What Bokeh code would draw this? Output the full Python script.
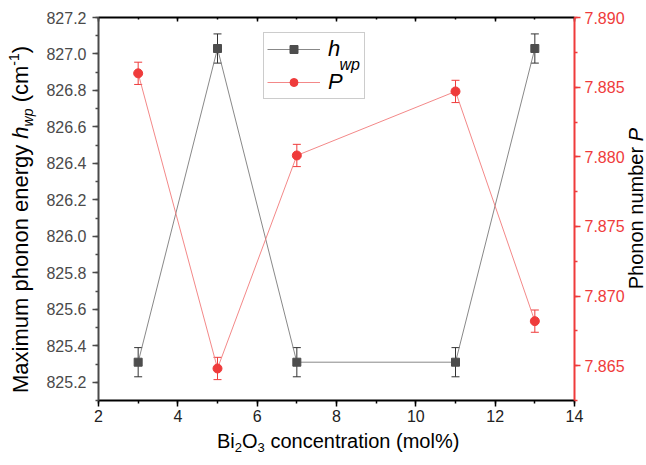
from bokeh.plotting import figure
from bokeh.layouts import row, column
from bokeh.models import (Range1d, LinearAxis, SingleIntervalTicker, NumeralTickFormatter,
                          ColumnDataSource, Whisker, TeeHead, Label, Legend, LegendItem,
                          CustomJSTickFormatter, Div)
from bokeh.embed import file_html
from bokeh.resources import INLINE

# ---------------- data ----------------
conc = [3, 5, 7, 11, 13]                       # Bi2O3 concentration (mol%)
hwp = [825.31, 827.03, 825.31, 825.31, 827.03]  # maximum phonon energy (cm-1)
hwp_err = [0.08, 0.08, 0.08, 0.08, 0.08]
phonon_P = [7.8860, 7.8648, 7.8801, 7.8847, 7.8682]  # phonon number P
P_err = [0.0008, 0.0008, 0.0008, 0.0008, 0.0008]

x_lim = (2, 14)
y_lim = (825.1, 827.2)
p_lim = (7.8625, 7.89001)   # tiny pad so the 7.890 end tick is kept

# ---------------- layout constants (window pixels) ----------------
LEFT_DIV = 40
FL, FT, FW, FH = 98, 17, 476, 383
RB, BB = 50, 30
FIG_H = FT + FH + BB
RIGHT_DIV = 646 - LEFT_DIV - (FL - LEFT_DIV) - FW - RB
FONT = "Liberation Sans"
GRAY = "#4a4a4a"
RED = "#ef3b3b"


def dx(px):
    return x_lim[0] + (px - FL) * (x_lim[1] - x_lim[0]) / FW


def dy(py):
    return y_lim[1] - (py - FT) * (y_lim[1] - y_lim[0]) / FH


p = figure(frame_width=FW, frame_height=FH, output_backend="svg", toolbar_location=None,
           x_range=Range1d(*x_lim), y_range=Range1d(*y_lim),
           min_border_left=FL - LEFT_DIV, min_border_top=FT, min_border_right=RB,
           min_border_bottom=BB, margin=0)
p.outline_line_color = None
p.xgrid.visible = False
p.ygrid.visible = False
p.background_fill_color = "white"
p.border_fill_color = "white"

p.extra_y_ranges = {"P": Range1d(*p_lim)}


def style_axis(ax, color, tin, tout, mtin, mtout, label_color, standoff):
    ax.axis_line_width = 2
    ax.axis_line_color = color
    ax.major_tick_line_color = color
    ax.minor_tick_line_color = color
    ax.major_tick_line_width = 1.5
    ax.minor_tick_line_width = 1.5
    ax.major_tick_in = tin
    ax.major_tick_out = tout
    ax.minor_tick_in = mtin
    ax.minor_tick_out = mtout
    ax.major_label_text_font = FONT
    ax.major_label_text_font_size = "16px"
    ax.major_label_text_color = label_color
    ax.major_label_standoff = standoff


# bottom axis
xa = p.xaxis[0]
xa.ticker = SingleIntervalTicker(interval=2, num_minor_ticks=2)
style_axis(xa, "black", 0, 6, 0, 3, "#222222", 3)

# left axis
ya = p.yaxis[0]
ya.ticker = SingleIntervalTicker(interval=0.2, num_minor_ticks=2)
ya.formatter = NumeralTickFormatter(format="0.0")
style_axis(ya, GRAY, 0, 6, 0, 3, GRAY, 6)

# right axis
ra = LinearAxis(y_range_name="P")
ra.ticker = SingleIntervalTicker(interval=0.005, num_minor_ticks=2)
ra.formatter = NumeralTickFormatter(format="0.000")
style_axis(ra, RED, 0, 6, 0, 3, RED, 4)
p.add_layout(ra, "right")

# top axis (ticks only)
ta = LinearAxis()
ta.ticker = SingleIntervalTicker(interval=2, num_minor_ticks=2)
ta.formatter = CustomJSTickFormatter(code="return ''")
style_axis(ta, "black", 4, 0, 2, 0, "black", 0)
ta.major_label_text_font_size = "0px"
p.add_layout(ta, "above")

# ---------------- data glyphs ----------------
src_h = ColumnDataSource(dict(x=conc, y=hwp,
                              lo=[v - e for v, e in zip(hwp, hwp_err)],
                              hi=[v + e for v, e in zip(hwp, hwp_err)]))
src_p = ColumnDataSource(dict(x=conc, y=phonon_P,
                              lo=[v - e for v, e in zip(phonon_P, P_err)],
                              hi=[v + e for v, e in zip(phonon_P, P_err)]))

lh = p.line("x", "y", source=src_h, line_color="#7a7a7a", line_width=0.9)
lp = p.line("x", "y", source=src_p, line_color="#f27a7a", line_width=0.9, y_range_name="P")

p.add_layout(Whisker(source=src_h, base="x", lower="lo", upper="hi", line_color="#333333",
                     line_width=1,
                     upper_head=TeeHead(size=8, line_color="#333333", line_width=1),
                     lower_head=TeeHead(size=8, line_color="#333333", line_width=1)))
p.add_layout(Whisker(source=src_p, base="x", lower="lo", upper="hi", line_color=RED,
                     line_width=1, y_range_name="P",
                     upper_head=TeeHead(size=8, line_color=RED, line_width=1),
                     lower_head=TeeHead(size=8, line_color=RED, line_width=1)))

sh = p.scatter("x", "y", source=src_h, marker="square", size=8,
               fill_color="#4d4d4d", line_color="#4d4d4d")
sp = p.scatter("x", "y", source=src_p, marker="circle", size=9,
               fill_color=RED, line_color=RED, y_range_name="P")

# legend subscript (drawn under a transparent legend)
p.add_layout(Label(x=dx(339), y=dy(64), text="wp", text_font=FONT, text_font_size="16px",
                   text_font_style="italic", text_color="black",
                   text_align="left", text_baseline="alphabetic"))

# ---------------- legend ----------------
legend = Legend(items=[LegendItem(label="h", renderers=[lh, sh]),
                       LegendItem(label="P", renderers=[lp, sp])],
                location=(263 - FL, FH - (99 - FT)), orientation="vertical",
                glyph_width=53, glyph_height=20, padding=3, spacing=7,
                label_standoff=8, label_width=33, margin=0,
                label_text_font=FONT, label_text_font_size="22px",
                label_text_font_style="italic", label_text_color="black",
                border_line_color="#999999", border_line_width=1,
                background_fill_alpha=0)
p.add_layout(legend, "center")

# ---------------- axis titles (rich text) ----------------
BASE = f"font-family:'{FONT}';white-space:nowrap;color:#000;"


def rotated(html, x_top, y_start, size, lh):
    return (f'<div style="{BASE}font-size:{size}px;line-height:{lh}px;display:inline-block;'
            f'transform-origin:0 0;transform:translate({x_top}px,{y_start}px) rotate(-90deg);">'
            f'{html}</div>')


def vertical(html, top, size, lh):
    # vertical text laid out inside its own box (reads bottom-to-top)
    return (f'<div style="{BASE}font-size:{size}px;line-height:{lh}px;width:{lh}px;'
            f'margin-top:{top}px;writing-mode:vertical-rl;transform:rotate(180deg);">'
            f'{html}</div>')


SUB_Y = "font-size:14px;vertical-align:-5px;line-height:0;font-style:italic;"
SUP_Y = "font-size:14px;vertical-align:9px;line-height:0;"
ylabel_html = (f'Maximum phonon energy <i>h</i><span style="{SUB_Y}">wp</span>'
               f' (cm<span style="{SUP_Y}">-1</span>)')
rlabel_html = 'Phonon number <i>P</i>'
SUB_X = "font-size:13px;vertical-align:-4px;line-height:0;"
xlabel_html = (f'Bi<span style="{SUB_X}">2</span>O<span style="{SUB_X}">3</span>'
               f' concentration (mol%)')

left_div = Div(width=LEFT_DIV, height=FIG_H, margin=0,
               text=rotated(ylabel_html, 7.5, 393, 22, 26))
right_div = Div(width=RIGHT_DIV, height=FIG_H, margin=0,
                text=vertical(rlabel_html, 128, 20, 18))
bottom_div = Div(width=646, height=465 - FIG_H, margin=0,
                 text=(f'<div style="{BASE}font-size:20px;line-height:23px;'
                       f'padding-left:217px;">{xlabel_html}</div>'))

layout = column(row(left_div, p, right_div, margin=0, spacing=0), bottom_div,
                margin=0, spacing=0)

open("out.html", "w").write(file_html(layout, INLINE))
